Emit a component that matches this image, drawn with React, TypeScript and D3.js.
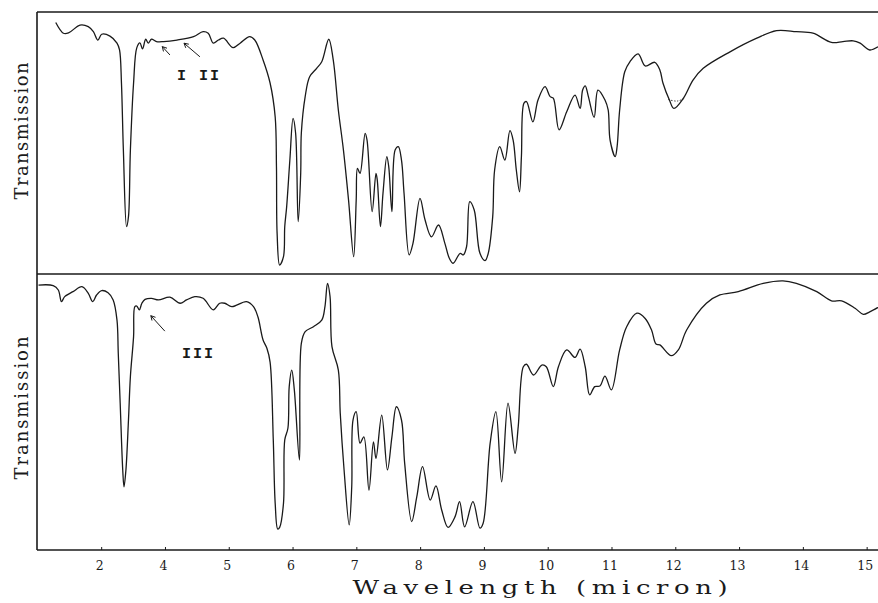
import React from "react";
import * as d3 from "d3";

// x positions are wavelength in micron, y is transmission in percent of the panel
const tickValues = [3, 4, 5, 6, 7, 8, 9, 10, 11, 12, 13, 14, 15];
const tickLabels = ["2", "4", "5", "6", "7", "8", "9", "10", "11", "12", "13", "14", "15"];

const upperSpectrum: [number, number][] = [
  [2.28, 96], [2.4, 91.9], [2.48, 92], [2.66, 95], [2.79, 94.4], [2.87, 92.5], [2.94, 89.3],
  [3.0, 91.5], [3.13, 90.8], [3.24, 88.1], [3.28, 85.5], [3.31, 72.9], [3.34, 47.3], [3.39, 18.1],
  [3.42, 21.9], [3.45, 47.3], [3.5, 72.9], [3.55, 86.3], [3.6, 88.2], [3.64, 85.9], [3.69, 89.6],
  [3.73, 88.1], [3.78, 89.6], [3.86, 88.7], [3.97, 88.7], [4.18, 89.3], [4.44, 90.6], [4.59, 92.5],
  [4.67, 91.9], [4.75, 88.1], [4.83, 89.3], [4.91, 90], [5.06, 86.4], [5.17, 88.1], [5.32, 90.6],
  [5.4, 89.3], [5.53, 81.7], [5.64, 72.9], [5.72, 59.9], [5.74, 40.8], [5.75, 15.6], [5.79, 3.4],
  [5.85, 6.6], [5.87, 18.1], [5.9, 25.7], [5.95, 43.5], [6.0, 59.4], [6.04, 53.8], [6.08, 20],
  [6.12, 38.5], [6.13, 53.8], [6.19, 67.7], [6.26, 75.3], [6.37, 78.5], [6.45, 81], [6.56, 89.6],
  [6.63, 81.7], [6.71, 62.6], [6.79, 47.3], [6.87, 28.2], [6.95, 6.6], [6.99, 28.2], [7.01, 40.3],
  [7.05, 38.4], [7.13, 53.7], [7.16, 51.1], [7.24, 23.8], [7.3, 38.4], [7.32, 35.9], [7.37, 18.1],
  [7.41, 30.8], [7.47, 44.8], [7.5, 41], [7.55, 23.8], [7.6, 47.3], [7.65, 48.6], [7.7, 43.5],
  [7.74, 30.8], [7.82, 7.3], [7.88, 11.7], [7.99, 28.9], [8.07, 20.6], [8.17, 14.2], [8.28, 18.7],
  [8.38, 11.7], [8.45, 6], [8.51, 4.1], [8.62, 7.9], [8.67, 7.3], [8.72, 10.4], [8.77, 27.6],
  [8.84, 24.4], [8.93, 7.9], [9.01, 5.1], [9.06, 7.9], [9.13, 21.9], [9.16, 39.7], [9.24, 48.6],
  [9.32, 43.5], [9.4, 54.7], [9.45, 51.1], [9.5, 39.7], [9.55, 31.4], [9.58, 44.8], [9.62, 65.2],
  [9.66, 65.8], [9.76, 58.1], [9.84, 66.4], [9.95, 71.5], [10.03, 67.7], [10.08, 67.1], [10.17, 55],
  [10.29, 61.9], [10.42, 68.3], [10.5, 63.2], [10.54, 70.2], [10.58, 71.8], [10.63, 67.7],
  [10.72, 59.8], [10.78, 70.2], [10.89, 66.4], [10.94, 62.6], [10.97, 51.1], [11.05, 44.8],
  [11.08, 48.6], [11.12, 62.6], [11.2, 77.2], [11.28, 81], [11.41, 84], [11.52, 79.4], [11.67, 80.8],
  [11.75, 77.9], [11.8, 72.8], [11.9, 66.4], [11.97, 63.2], [12.12, 67.1], [12.27, 74], [12.43, 78.5],
  [12.85, 84.8], [13.27, 90], [13.58, 92.9], [13.89, 92.5], [14.15, 91.9], [14.44, 88.4],
  [14.62, 88.7], [14.78, 89], [14.89, 88.1], [15.04, 85.5], [15.17, 86.7],
];

// dotted background line across the 12 micron dip of the upper trace
const upperBackground: [number, number][] = [[11.88, 66.6], [12.02, 66], [12.15, 67.2]];

const lowerSpectrum: [number, number][] = [
  [2.01, 96], [2.24, 95.8], [2.32, 94.2], [2.37, 90], [2.42, 91.8], [2.55, 93.6], [2.69, 95.4],
  [2.79, 93], [2.86, 90], [2.92, 92.4], [3.0, 94], [3.1, 93.2], [3.18, 90.6], [3.24, 83.3],
  [3.26, 71.3], [3.29, 53.2], [3.33, 29], [3.35, 22.9], [3.38, 29], [3.42, 47.1], [3.45, 62.8],
  [3.5, 77.3], [3.52, 88.2], [3.55, 88.4], [3.59, 87], [3.63, 89.4], [3.68, 90.8], [3.78, 91.2],
  [3.89, 90.6], [4.07, 91.6], [4.23, 89.4], [4.33, 90.6], [4.46, 91.8], [4.59, 91.2], [4.75, 87],
  [4.85, 89.4], [4.93, 89.4], [5.04, 88.2], [5.27, 90], [5.38, 88.2], [5.45, 84.4], [5.53, 76.1],
  [5.59, 73.1], [5.64, 68.1], [5.69, 39.9], [5.72, 16.9], [5.76, 7.6], [5.79, 8.2], [5.85, 16.9],
  [5.87, 39.9], [5.92, 44.2], [5.94, 59.2], [5.98, 65.2], [6.02, 58], [6.1, 32.6], [6.13, 74.9],
  [6.19, 79.1], [6.32, 80.9], [6.45, 83.3], [6.5, 88.2], [6.54, 96.6], [6.58, 91.8], [6.61, 73.7],
  [6.71, 65.2], [6.74, 49.5], [6.8, 29], [6.88, 9.1], [6.92, 22.9], [6.94, 47.1], [6.99, 50.1],
  [7.05, 38.7], [7.11, 41], [7.19, 21.7], [7.26, 39.2], [7.3, 33.2], [7.39, 48.9], [7.48, 29],
  [7.55, 41], [7.62, 51.9], [7.7, 47.1], [7.75, 31.4], [7.86, 10.3], [7.94, 19.3], [8.03, 30.2],
  [8.15, 18.1], [8.24, 23.2], [8.33, 14.5], [8.43, 8.2], [8.54, 12.1], [8.61, 17.5], [8.69, 8.4],
  [8.82, 17.5], [8.93, 7.9], [8.98, 9.7], [9.09, 38.7], [9.18, 50.1], [9.27, 24.7], [9.37, 53.2],
  [9.48, 35], [9.53, 44.7], [9.61, 66.4], [9.66, 67.3], [9.77, 63.4], [9.9, 67], [9.97, 66.4],
  [10.08, 59.2], [10.16, 66.4], [10.29, 72.5], [10.42, 69.8], [10.5, 72.8], [10.58, 66.4],
  [10.65, 56.2], [10.73, 59.2], [10.81, 59.4], [10.89, 63], [10.99, 58], [11.12, 72.5],
  [11.23, 80.9], [11.39, 85.8], [11.52, 83.9], [11.62, 79.7], [11.69, 74.6], [11.75, 74.3],
  [11.93, 70.4], [12.04, 72.5], [12.17, 79.7], [12.48, 89.4], [12.69, 92.4], [12.98, 93.6],
  [13.37, 96.6], [13.68, 97.5], [13.89, 96.6], [14.21, 93.6], [14.44, 90.3], [14.6, 90.3],
  [14.81, 87.6], [14.94, 85.4], [15.04, 86.3], [15.17, 87.9],
];

const upperArrows = [
  { from: [4.07, 83.6], to: [3.95, 86.8] },
  { from: [4.54, 82.9], to: [4.29, 88.1] },
];
const lowerArrows = [{ from: [3.99, 79.3], to: [3.77, 84.9] }];

const width = 878;
const height = 603;
const left = 37;
const top = 12;
const mid = 274;
const bottom = 550;

const x = d3.scaleLinear().domain([1.986, 15.17]).range([left, width]);
const yUpper = d3.scaleLinear().domain([0, 100]).range([mid, top]);
const yLower = d3.scaleLinear().domain([0, 100]).range([bottom, mid]);

const ink = "#1a1a1a";

const Arrow = ({ a, y }: { a: { from: number[]; to: number[] }; y: d3.ScaleLinear<number, number> }) => {
  const x1 = x(a.from[0]), y1 = y(a.from[1]);
  const x2 = x(a.to[0]), y2 = y(a.to[1]);
  const ang = Math.atan2(y2 - y1, x2 - x1);
  const h = 5;
  const p1 = [x2 - h * Math.cos(ang - 0.5), y2 - h * Math.sin(ang - 0.5)];
  const p2 = [x2 - h * Math.cos(ang + 0.5), y2 - h * Math.sin(ang + 0.5)];
  return (
    <g stroke={ink} strokeWidth={1} fill="none">
      <line x1={x1} y1={y1} x2={x2} y2={y2} />
      <path d={`M${p1[0]},${p1[1]}L${x2},${y2}L${p2[0]},${p2[1]}`} />
    </g>
  );
};

export default function App() {
  const lineUpper = d3
    .line<[number, number]>()
    .x((d) => x(d[0]))
    .y((d) => yUpper(d[1]))
    .curve(d3.curveCatmullRom.alpha(0.5));
  const lineLower = d3
    .line<[number, number]>()
    .x((d) => x(d[0]))
    .y((d) => yLower(d[1]))
    .curve(d3.curveCatmullRom.alpha(0.5));

  const serif = "'DejaVu Serif', 'Liberation Serif', serif";
  const mono = "'Liberation Mono', 'DejaVu Sans Mono', monospace";

  return (
    <svg
      width={width}
      height={height}
      style={{ position: "absolute", left: 0, top: 0, background: "#fff" }}
    >
      {/* frame */}
      <g stroke={ink} strokeWidth={1.6} fill="none">
        <line x1={left} y1={top} x2={width} y2={top} />
        <line x1={left} y1={mid} x2={width} y2={mid} />
        <line x1={left} y1={bottom} x2={width} y2={bottom} />
        <line x1={left} y1={top} x2={left} y2={bottom} />
      </g>

      {/* bottom axis ticks and labels */}
      {tickValues.map((t, i) => (
        <g key={t}>
          <line x1={x(t)} x2={x(t)} y1={bottom} y2={bottom - 3} stroke={ink} strokeWidth={1} />
          <text
            x={x(t) - 2}
            y={570}
            textAnchor="middle"
            fontFamily={serif}
            fontSize={12.5}
            fill={ink}
          >
            {tickLabels[i]}
          </text>
        </g>
      ))}

      {/* spectra */}
      <path d={lineUpper(upperSpectrum) || ""} fill="none" stroke={ink} strokeWidth={1.3} />
      <path
        d={lineUpper(upperBackground) || ""}
        fill="none"
        stroke={ink}
        strokeWidth={0.8}
        strokeDasharray="1.5 1.5"
      />
      <path d={lineLower(lowerSpectrum) || ""} fill="none" stroke={ink} strokeWidth={1.3} />

      {/* annotations */}
      {upperArrows.map((a, i) => (
        <Arrow key={"u" + i} a={a} y={yUpper} />
      ))}
      {lowerArrows.map((a, i) => (
        <Arrow key={"l" + i} a={a} y={yLower} />
      ))}
      <text
        x={x(4.18)}
        y={yUpper(74)}
        fontFamily={mono}
        fontWeight="bold"
        fontSize={15}
        letterSpacing={2}
        fill={ink}
      >
        I II
      </text>
      <text
        x={x(4.26)}
        y={yLower(69.6)}
        fontFamily={mono}
        fontWeight="bold"
        fontSize={15}
        letterSpacing={2}
        fill={ink}
      >
        III
      </text>

      {/* axis titles */}
      <text
        transform={`translate(28,${(top + mid) / 2 - 12}) rotate(-90)`}
        textAnchor="middle"
        fontFamily={serif}
        fontSize={18}
        textLength={137}
        fill={ink}
      >
        Transmission
      </text>
      <text
        transform={`translate(28,${(mid + bottom) / 2 - 4}) rotate(-90)`}
        textAnchor="middle"
        fontFamily={serif}
        fontSize={18}
        textLength={143}
        fill={ink}
      >
        Transmission
      </text>
      <g transform="translate(540,594) scale(1.4,1)">
        <text
          x={0}
          y={0}
          textAnchor="middle"
          fontFamily={serif}
          fontSize={18.5}
          textLength={268}
          fill={ink}
        >
          Wavelength (micron)
        </text>
      </g>
    </svg>
  );
}
